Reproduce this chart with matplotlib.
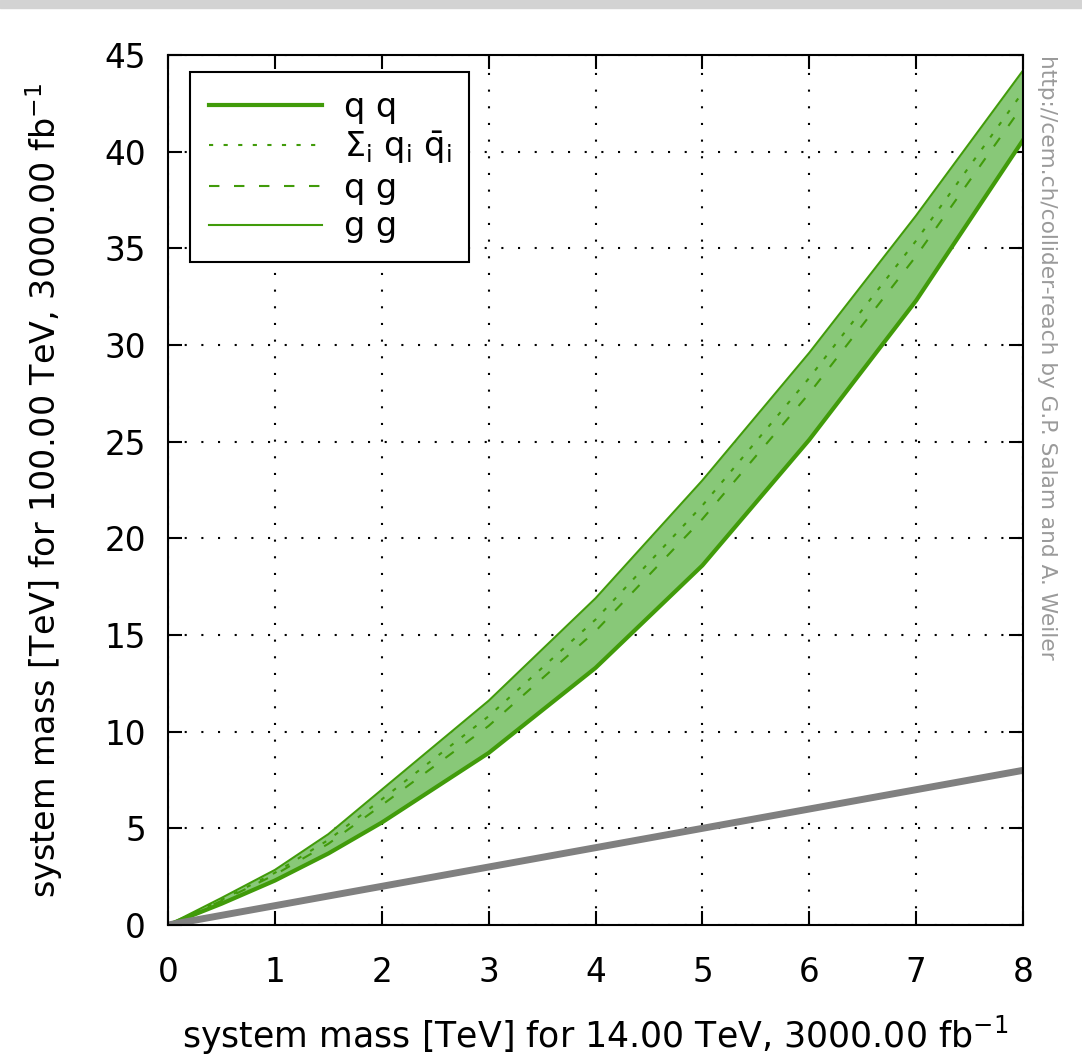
import matplotlib
matplotlib.use("Agg")
import matplotlib.pyplot as plt
from matplotlib.patches import Rectangle

# reach at 14 TeV (x) vs reach at 100 TeV (y), 3000 fb^-1 each
mass_14 = [0, 0.5, 1, 1.5, 2, 3, 4, 5, 6, 7, 8]
reach_qq = [0, 1.1, 2.3, 3.7, 5.3, 8.9, 13.3, 18.6, 25.1, 32.3, 40.6]
reach_qqbar = [0, 1.3, 2.7, 4.4, 6.5, 10.8, 15.8, 21.7, 28.3, 35.4, 43.1]
reach_qg = [0, 1.25, 2.6, 4.2, 6.2, 10.3, 15.2, 21.0, 27.5, 34.6, 42.4]
reach_gg = [0, 1.4, 2.85, 4.7, 7.0, 11.6, 16.9, 23.0, 29.6, 36.7, 44.2]
diag = [0, 8]

green = "#419b0a"
band = "#88c878"

plt.rcParams["font.family"] = ["DejaVu Sans"]

fig = plt.figure(figsize=(10.82, 10.58), dpi=100)
fig.patches.append(Rectangle((0, 0.992), 1, 0.008, transform=fig.transFigure,
                             color="#d3d3d3", zorder=0))
ax = fig.add_axes([0.1553, 0.1257, 0.7902, 0.8223])

ax.fill_between(mass_14, reach_qq, reach_gg, color=band, lw=0, zorder=2)
ax.plot(mass_14, reach_qq, color=green, lw=3, label="q q", zorder=3)
ax.plot(mass_14, reach_qqbar, color=green, lw=1.5, ls=(0, (2, 5)),
        label=r"$\Sigma_{\rm i}\ {\rm q}_{\rm i}\ \bar{\rm q}_{\rm i}$", zorder=3)
ax.plot(mass_14, reach_qg, color=green, lw=1.5, ls=(0, (5, 7)), label="q g", zorder=3)
ax.plot(mass_14, reach_gg, color=green, lw=1.5, label="g g", zorder=3)
ax.plot(diag, diag, color="#808080", lw=5, zorder=4, solid_capstyle="butt")

ax.set_xlim(0, 8)
ax.set_ylim(0, 45)
ax.set_xticks(range(0, 9))
ax.set_yticks(range(0, 46, 5))
ax.grid(True, color="black", ls=(0, (1, 7)), lw=1.5, zorder=1)
ax.set_axisbelow(True)
ax.tick_params(direction="in", length=10, width=1.5, top=True, right=True,
               labelsize=23.5)
ax.tick_params(axis="x", pad=22)
ax.tick_params(axis="y", pad=16)
for s in ax.spines.values():
    s.set_linewidth(1.5)
    s.set_zorder(5)

ax.set_xlabel(r"system mass [TeV] for 14.00 TeV, 3000.00 fb$^{\mathregular{-1}}$",
              fontsize=25, labelpad=18)
ax.set_ylabel(r"system mass [TeV] for 100.00 TeV, 3000.00 fb$^{\mathregular{-1}}$",
              fontsize=24, labelpad=28)

leg = ax.legend(loc="upper left", bbox_to_anchor=(0.026, 0.98), fontsize=24,
                handlelength=3.4, labelspacing=0.17, borderpad=0.55,
                handletextpad=0.65, frameon=True, fancybox=False, framealpha=1,
                borderaxespad=0)
leg.get_frame().set_edgecolor("black")
leg.get_frame().set_linewidth(1.5)
leg.set_zorder(6)

fig.text(0.958, 0.948, "http://cem.ch/collider-reach by G.P. Salam and A. Weiler",
         rotation=-90, va="top", ha="left", fontsize=15.6, color="#9a9a9a")

fig.savefig("out.png", dpi=100)
